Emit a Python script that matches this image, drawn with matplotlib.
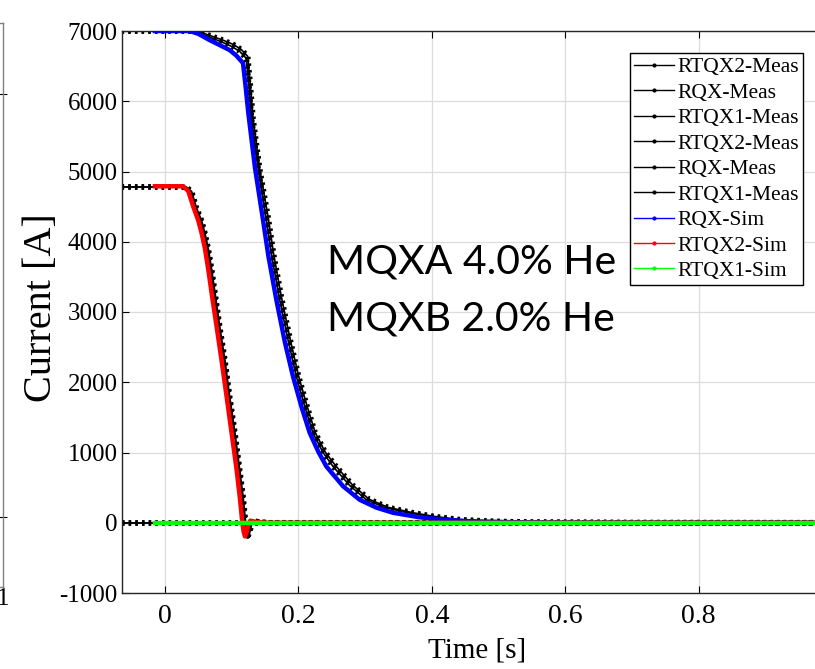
import matplotlib
matplotlib.use("Agg")
import matplotlib.pyplot as plt
from matplotlib.lines import Line2D

plt.rcParams['font.family'] = ['Liberation Serif', 'DejaVu Serif']
plt.rcParams['axes.unicode_minus'] = False

# ---- data -------------------------------------------------------------
# RQX circuit
t_rqx_meas_a = [-0.065, 0.040, 0.055, 0.070, 0.085, 0.100, 0.112, 0.122, 0.126,
                0.130, 0.140, 0.152, 0.160, 0.172, 0.185, 0.197, 0.210, 0.222,
                0.237, 0.252, 0.277, 0.302, 0.330, 0.367, 0.400, 0.440, 0.490,
                0.550, 0.700, 1.000]
i_rqx_meas_a = [7000, 7000, 6960, 6900, 6845, 6780, 6710, 6610, 6200,
                5733, 5020, 4310, 3800, 3172, 2580, 2081, 1640, 1276,
                1000, 800, 530, 327, 215, 138, 85, 40, 18,
                8, 2, 0]
t_rqx_meas_b = [-0.065, 0.042, 0.057, 0.072, 0.087, 0.102, 0.114, 0.124, 0.128,
                0.132, 0.142, 0.155, 0.163, 0.175, 0.188, 0.200, 0.213, 0.225,
                0.240, 0.256, 0.281, 0.306, 0.334, 0.372, 0.405, 0.445, 0.495,
                0.555, 0.700, 1.000]
i_rqx_meas_b = [7000, 7000, 6970, 6920, 6870, 6810, 6740, 6640, 6230,
                5760, 5040, 4330, 3820, 3190, 2600, 2100, 1660, 1290,
                1010, 810, 540, 335, 220, 142, 88, 42, 19,
                9, 2, 0]
t_rqx_sim = [-0.015, 0.037, 0.050, 0.067, 0.082, 0.097, 0.107, 0.117, 0.121,
             0.125, 0.135, 0.147, 0.155, 0.167, 0.180, 0.192, 0.205, 0.217,
             0.230, 0.242, 0.267, 0.292, 0.317, 0.342, 0.380, 0.417, 0.460,
             0.520, 0.600, 0.800, 1.000]
i_rqx_sim = [7000, 7000, 6960, 6870, 6800, 6728, 6650, 6543, 6200,
             5830, 5050, 4310, 3800, 3172, 2560, 2081, 1640, 1280,
             1010, 801, 520, 327, 215, 142, 80, 43, 20,
             8, 2, 0, 0]

# RTQX2 circuit
t_rtqx2_meas_a = [-0.065, 0.031, 0.039, 0.046, 0.054, 0.059, 0.064, 0.069, 0.075,
                  0.081, 0.089, 0.096, 0.104, 0.111, 0.116, 0.120, 0.122, 0.124,
                  0.126, 0.129, 0.132, 0.139, 0.154, 1.000]
i_rtqx2_meas_a = [4780, 4780, 4710, 4480, 4290, 4110, 3890, 3600, 3200,
                  2793, 2300, 1797, 1270, 754, 380, 0, -140, -190,
                  -150, -20, 30, 15, 0, 0]
t_rtqx2_meas_b = [-0.065, 0.032, 0.040, 0.047, 0.055, 0.060, 0.065, 0.070, 0.076,
                  0.082, 0.090, 0.097, 0.105, 0.112, 0.117, 0.121, 0.123, 0.125,
                  0.127, 0.130, 0.133, 0.140, 0.155, 1.000]
i_rtqx2_meas_b = [4780, 4780, 4715, 4490, 4300, 4120, 3900, 3610, 3210,
                  2800, 2310, 1800, 1275, 760, 385, 0, -130, -180,
                  -140, -20, 25, 12, 0, 0]
t_rtqx2_sim = [-0.015, 0.0275, 0.035, 0.0424, 0.050, 0.055, 0.060, 0.065, 0.071,
               0.0774, 0.085, 0.0924, 0.100, 0.1074, 0.112, 0.116, 0.118, 0.120,
               0.122, 0.125, 0.128, 0.135, 0.150, 0.200, 0.300, 1.000]
i_rtqx2_sim = [4790, 4790, 4720, 4500, 4300, 4120, 3900, 3600, 3200,
               2793, 2300, 1797, 1270, 754, 380, 0, -130, -195,
               -150, -20, 30, 15, 0, 0, 0, 0]

# RTQX1 circuit
t_rtqx1_meas = [-0.065, 1.000]
i_rtqx1_meas = [0, 0]
t_rtqx1_sim = [-0.015, 1.000]
i_rtqx1_sim = [0, 0]

x_ticks = [0, 0.2, 0.4, 0.6, 0.8]
x_tick_labels = ['0', '0.2', '0.4', '0.6', '0.8']
y_ticks = [-1000, 0, 1000, 2000, 3000, 4000, 5000, 6000, 7000]

meas_labels = ['RTQX2-Meas', 'RQX-Meas', 'RTQX1-Meas',
               'RTQX2-Meas', 'RQX-Meas', 'RTQX1-Meas']
sim_labels = ['RQX-Sim', 'RTQX2-Sim', 'RTQX1-Sim']
sim_colors = ['#0000ff', '#ff0000', '#00ff00']

# ---- figure -----------------------------------------------------------
W, H = 815, 669
fig = plt.figure(figsize=(W / 100, H / 100), dpi=100)

# neighbouring panel, only its right edge falls inside the figure
axl = fig.add_axes([-0.5, (H - 587) / H, 0.5 + 3 / W, (587 - 23) / H])
axl.set_xlim(0, 1)
axl.set_ylim(-1, 7)
axl.set_xticks([1])
axl.set_xticklabels(['1'], fontsize=18)
axl.set_yticks([0, 6])
axl.set_yticklabels([])
axl.tick_params(axis='y', direction='inout', length=6, color='black',
                right=True, left=False)
axl.tick_params(axis='x', direction='in', length=0, pad=1)
for s in axl.spines.values():
    s.set_color('#808080')
    s.set_linewidth(1.0)

# main panel
ax = fig.add_axes([122 / W, (H - 593) / H, (832 - 122) / W, (593 - 31) / H])
ax.set_xlim(-0.0644, 1.0)
ax.set_ylim(-1000, 7000)
ax.set_xticks(x_ticks)
ax.set_xticklabels(x_tick_labels)
ax.set_yticks(y_ticks)
ax.tick_params(direction='in', length=5, width=0.8, top=True, right=True)
ax.tick_params(axis='x', labelsize=20, pad=8)
ax.tick_params(axis='y', labelsize=18, pad=3)
ax.grid(True, color='#dcdcdc', linewidth=0.9)
ax.set_axisbelow(True)
for s in ax.spines.values():
    s.set_color('#262626')
    s.set_linewidth(1.0)
ax.set_xlabel('Time [s]', fontsize=21, labelpad=6)
fig.text(42 / W, 1 - 308 / H, 'Current [A]', fontsize=29, rotation=90,
         ha='center', va='center')


def meas(t, i):
    # thin trace with beaded samples on top
    ax.plot(t, i, color='black', lw=1.2, zorder=2)
    ax.plot(t, i, color='black', lw=4.0, dashes=(0.45, 0.75), zorder=2)


meas(t_rtqx2_meas_a, i_rtqx2_meas_a)
meas(t_rqx_meas_a, i_rqx_meas_a)
meas(t_rtqx1_meas, i_rtqx1_meas)
meas(t_rtqx2_meas_b, i_rtqx2_meas_b)
meas(t_rqx_meas_b, i_rqx_meas_b)
meas(t_rtqx1_meas, i_rtqx1_meas)

ax.plot(t_rqx_sim, i_rqx_sim, color=sim_colors[0], lw=3.2, zorder=3,
        solid_joinstyle='round')
ax.plot(t_rtqx2_sim, i_rtqx2_sim, color=sim_colors[1], lw=3.2, zorder=3,
        solid_joinstyle='round')
ax.plot(t_rtqx1_sim, i_rtqx1_sim, color=sim_colors[2], lw=3.2, zorder=4)

handles = [Line2D([], [], color='black', lw=1.0, marker='.', ms=4) for _ in meas_labels]
handles += [Line2D([], [], color=c, lw=1.0, marker='.', ms=4) for c in sim_colors]
leg = ax.legend(handles, meas_labels + sim_labels, loc='upper right',
                bbox_to_anchor=(803 / W, 1 - 53 / H), bbox_transform=fig.transFigure,
                borderaxespad=0, fontsize=15.5, handlelength=1.85, handletextpad=0.15,
                labelspacing=0.25, borderpad=0.2, fancybox=False, framealpha=1,
                edgecolor='black')
leg.get_frame().set_linewidth(1.0)

fig.text(327 / W, 1 - 273 / H, 'MQXA 4.0% He', fontsize=29.5, family='Lato',
         va='baseline', ha='left')
fig.text(327 / W, 1 - 330 / H, 'MQXB 2.0% He', fontsize=29.5, family='Lato',
         va='baseline', ha='left')

fig.savefig('out.png', dpi=100)
